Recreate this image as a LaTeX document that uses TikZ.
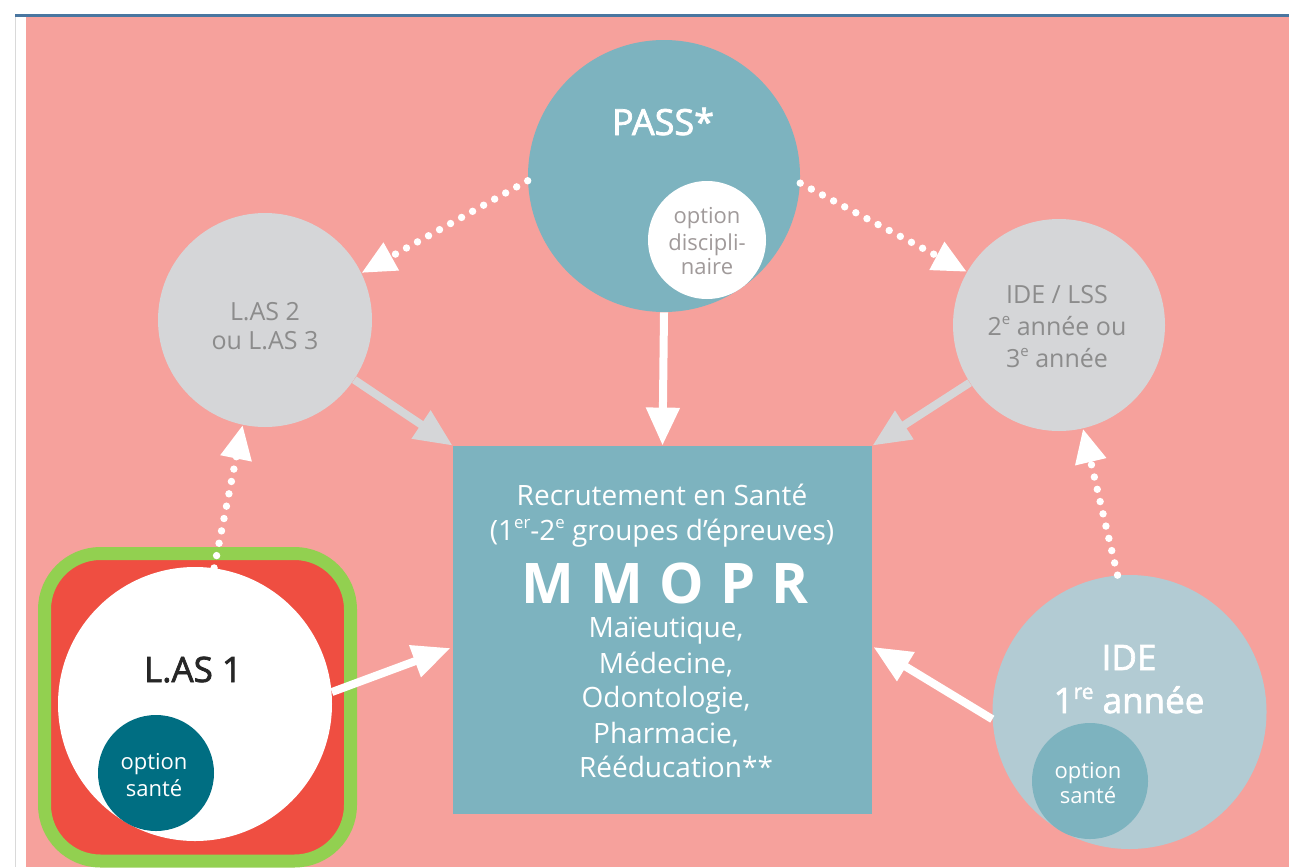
\documentclass[tikz,border=0pt]{standalone}
\usepackage{fontspec}
\setmainfont{Open Sans}
\newfontfamily\semib[FakeBold=2]{Open Sans}
\usetikzlibrary{arrows.meta,calc}
\definecolor{pinkbg}{HTML}{F6A19C}
\definecolor{tealc}{HTML}{7DB3BF}
\definecolor{grayc}{HTML}{D5D6D8}
\definecolor{redc}{HTML}{EF4E41}
\definecolor{greenc}{HTML}{92D050}
\definecolor{darkteal}{HTML}{006E82}
\definecolor{lightblue}{HTML}{B2CBD3}
\definecolor{topline}{HTML}{4A76A0}
\definecolor{graytext}{HTML}{8C8C8C}
\definecolor{optgray}{HTML}{A09A9A}
\newcommand{\supx}[1]{\raisebox{0.75ex}{\fontsize{0.6em}{0.6em}\selectfont #1}}
\begin{document}
\begin{tikzpicture}[x=0.5pt,y=-0.5pt,
  circ/.style={circle,inner sep=0pt,draw=none},
  txt/.style={anchor=base,inner sep=0pt,text=white},
  fs/.style={font=\fontsize{#1}{#1}\selectfont},
  fsb/.style={font=\semib\fontsize{#1}{#1}\selectfont},
  solidarrow/.style={line width=4pt,draw=white,-{Triangle[length=19pt,width=16pt]}},
  grayarrow/.style={line width=4pt,draw=grayc,-{Triangle[length=19pt,width=16pt]}},
  dotarrow/.style={line width=3.7pt,draw=white,line cap=round,dash pattern=on 0pt off 6.3pt,-{Triangle[length=17pt,width=15pt]}}]
\useasboundingbox (0,0) rectangle (1289,867);
\fill[white] (0,0) rectangle (1289,867);
\fill[pinkbg] (26,17) rectangle (1289,867);
\draw[gray!30,line width=0.5pt] (15,17) -- (15,867);
\fill[topline] (15,14) rectangle (1289,17);

% LAS1 block
\draw[fill=redc,draw=greenc,line width=6.5pt,rounded corners=28pt] (44.5,553.5) rectangle (350.5,861);
\node[circ,fill=white,minimum size=137pt] (las1) at (195,704) {};
\node[circ,fill=darkteal,minimum size=58pt] (las1opt) at (156,773) {};
\node[txt,text=black!85,fsb=17.5] (las1t) at (193,682) {L.AS 1};
\node[txt,fs=11] (las1o1) at (154,769) {option};
\node[txt,fs=11] (las1o2) at (154,796) {santé};

% PASS
\node[circ,fill=tealc,minimum size=136pt] (pass) at (664,176) {};
\node[circ,fill=white,minimum size=59pt] (passopt) at (707,240) {};
\node[txt,fsb=18] (passt) at (663,135) {PASS*};
\node[txt,text=optgray,fs=11] (po1) at (707,223) {option};
\node[txt,text=optgray,fs=11] (po2) at (707,250) {discipli-};
\node[txt,text=optgray,fs=11] (po3) at (707,274) {naire};

% LAS2
\node[circ,fill=grayc,minimum size=107pt] (las2) at (265,320) {};
\node[txt,text=graytext,fs=12.5] (l2a) at (265,320) {L.AS 2};
\node[txt,text=graytext,fs=12.5] (l2b) at (265,349) {ou L.AS 3};

% IDE/LSS
\node[circ,fill=grayc,minimum size=106pt] (idelss) at (1059,325) {};
\node[txt,text=graytext,fs=12.5] (il1) at (1057,303) {IDE / LSS};
\node[txt,text=graytext,fs=12.5] (il2) at (1057,335) {2\supx{e} année ou};
\node[txt,text=graytext,fs=12.5] (il3) at (1057,367) {3\supx{e} année};

% IDE 1re annee
\node[circ,fill=lightblue,minimum size=137pt] (ide1) at (1129.5,712) {};
\node[circ,fill=tealc,minimum size=58pt] (ide1opt) at (1090,781) {};
\node[txt,fsb=17.5] (i1a) at (1129,670) {IDE};
\node[txt,fsb=17.5] (i1b) at (1129,713) {1\supx{re} année};
\node[txt,fs=11] (io1) at (1088,778) {option};
\node[txt,fs=11] (io2) at (1088,803) {santé};

% Central box
\node[fill=tealc,minimum width=209.5pt,minimum height=184pt,inner sep=0pt] (box) at (662.5,630) {};
\node[txt,fs=14] (b1) at (662,505) {Recrutement en Santé};
\node[txt,fs=14] (b2) at (662,540) {(1\supx{er}-2\supx{e} groupes d’épreuves)};
\node[txt,font=\bfseries\fontsize{28}{28}\selectfont] (b3) at (665,603) {M\hspace{8pt}M\hspace{8pt}O\hspace{8pt}P\hspace{8pt}R};
\node[txt,fs=14] (b4) at (666,637) {Maïeutique,};
\node[txt,fs=14] (b5) at (666,673) {Médecine,};
\node[txt,fs=14] (b6) at (666,707) {Odontologie,};
\node[txt,fs=14] (b7) at (666,743) {Pharmacie,};
\node[txt,fs=14] (b8) at (676,777) {Rééducation**};

% connectors
\draw[solidarrow] (pass.south) -- (box.north);
\draw[grayarrow] (las2) -- (box.north west);
\draw[grayarrow] (idelss) -- (box.north east);
\draw[solidarrow] (las1.5) -- ($(box.west)+(-2,18)$);
\draw[solidarrow] (ide1.183) -- ($(box.east)+(1,17)$);
\draw[dotarrow] (pass.182) -- (las2.26);
\draw[dotarrow] (pass.-3) -- (idelss.150);
\draw[dotarrow] (las1.82) -- (las2.-102);
\draw[dotarrow] (ide1.95) -- (idelss.-77);
\end{tikzpicture}
\end{document}
